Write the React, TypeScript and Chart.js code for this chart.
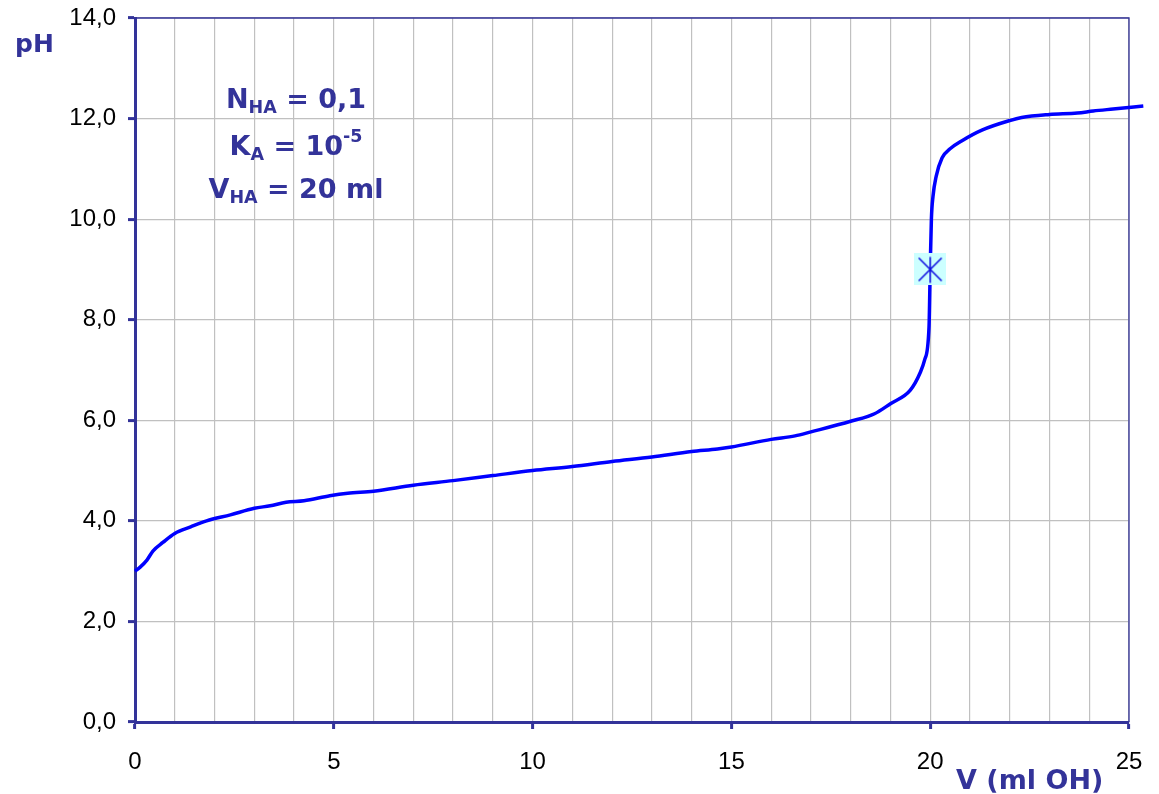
import React, { useEffect, useRef } from 'react';
import { Chart, registerables } from 'chart.js';

Chart.register(...registerables);

// ---- data ----
const VOLUME_ML = [
  0, 0.13, 0.3, 0.45, 0.7, 1.0, 1.4, 1.8, 2.4, 3.0, 3.4, 3.8, 4.25, 4.9, 5.35, 6.0,
  7.0, 8.0, 9.0, 10.0, 11.0, 12.0, 13.0, 14.0, 14.65, 15.0, 16.0, 16.6, 17.0, 18.0,
  18.6, 19.0, 19.5, 19.75, 19.86, 19.97, 20.0, 20.03, 20.07, 20.15, 20.3, 20.5, 20.8,
  21.3, 22.0, 22.3, 23.0, 23.7, 24.1, 24.6, 25.36,
];
const PH_VALUES = [
  3.0, 3.08, 3.22, 3.4, 3.57, 3.75, 3.88, 4.0, 4.12, 4.25, 4.3, 4.37, 4.4, 4.5, 4.55, 4.59,
  4.71, 4.8, 4.9, 5.0, 5.08, 5.18, 5.27, 5.38, 5.43, 5.47, 5.62, 5.69, 5.77, 5.98,
  6.13, 6.33, 6.6, 6.95, 7.2, 7.85, 9.0, 10.0, 10.45, 10.85, 11.22, 11.4, 11.56,
  11.77, 11.96, 12.02, 12.08, 12.11, 12.15, 12.19, 12.25,
];
const EQ_VOLUME = [20];
const EQ_PH = [9];

const X_MIN = 0;
const X_MAX = 25;
const X_GRID_STEP = 1;
const X_LABEL_EVERY = 5;
const Y_MIN = 0;
const Y_MAX = 14;
const Y_STEP = 2;

const Y_TITLE = 'pH';
const X_TITLE = 'V (ml OH)';
type Seg = { t: string; k: 'n' | 'sub' | 'sup' };
const NOTE_LINES: Seg[][] = [
  [{ t: 'N', k: 'n' }, { t: 'HA', k: 'sub' }, { t: ' = 0,1', k: 'n' }],
  [{ t: 'K', k: 'n' }, { t: 'A', k: 'sub' }, { t: ' = 10', k: 'n' }, { t: '-5', k: 'sup' }],
  [{ t: 'V', k: 'n' }, { t: 'HA', k: 'sub' }, { t: ' = 20 ml', k: 'n' }],
];

// ---- styles ----
const NAVY = '#333399';
const GRID = '#C0C0C0';
const CURVE = '#0000FF';
const BOLD_FAMILY = '"DejaVu Sans", Verdana, sans-serif';
const TICK_FAMILY = '"Liberation Sans", Arial, sans-serif';

function makeMarker(): HTMLCanvasElement {
  const c = document.createElement('canvas');
  c.width = 32;
  c.height = 32;
  const g = c.getContext('2d')!;
  g.fillStyle = '#CCFFFF';
  g.fillRect(0, 0, 32, 32);
  g.strokeStyle = '#1010E0';
  g.lineWidth = 1.6;
  g.beginPath();
  g.moveTo(4.5, 4.5);
  g.lineTo(27.5, 27.5);
  g.moveTo(27.5, 4.5);
  g.lineTo(4.5, 27.5);
  g.moveTo(16, 3.5);
  g.lineTo(16, 29.5);
  g.stroke();
  return c;
}

const framePlugin = {
  id: 'frame',
  beforeDatasetsDraw(chart: any) {
    const { ctx, chartArea: a } = chart;
    ctx.save();
    ctx.strokeStyle = NAVY;
    ctx.lineWidth = 1.3;
    ctx.beginPath();
    ctx.moveTo(a.left, a.top);
    ctx.lineTo(a.right, a.top);
    ctx.lineTo(a.right, a.bottom);
    ctx.stroke();
    ctx.restore();
  },
};

const textPlugin = {
  id: 'texts',
  afterDraw(chart: any) {
    const { ctx } = chart;
    ctx.save();
    ctx.fillStyle = NAVY;
    ctx.textBaseline = 'alphabetic';
    ctx.textAlign = 'left';
    // axis titles
    ctx.font = `bold 25px ${BOLD_FAMILY}`;
    ctx.fillText(Y_TITLE, 15, 52);
    ctx.font = `bold 27px ${BOLD_FAMILY}`;
    ctx.fillText(X_TITLE, 956, 789);
    // notes
    const fontFor = (k: string) =>
      k === 'n' ? `bold 27px ${BOLD_FAMILY}` : `bold 17.5px ${BOLD_FAMILY}`;
    const shift = (k: string) => (k === 'sub' ? 4.5 : k === 'sup' ? -13.5 : 0);
    const baselines = [108, 155, 198];
    const cx = 296;
    NOTE_LINES.forEach((line, i) => {
      let w = 0;
      line.forEach((s) => {
        ctx.font = fontFor(s.k);
        w += ctx.measureText(s.t).width;
      });
      let x = cx - w / 2;
      line.forEach((s) => {
        ctx.font = fontFor(s.k);
        ctx.fillText(s.t, x, baselines[i] + shift(s.k));
        x += ctx.measureText(s.t).width;
      });
    });
    ctx.restore();
  },
};

const zeroPad = (s: any) => {
  s.paddingTop = 0;
  s.paddingBottom = 0;
  s.paddingLeft = 0;
  s.paddingRight = 0;
};

export default function App() {
  const ref = useRef<HTMLCanvasElement>(null);

  useEffect(() => {
    document.body.style.margin = '0';
    const canvas = ref.current!;
    const curve = VOLUME_ML.map((v, i) => ({ x: v, y: PH_VALUES[i] }));
    const eq = EQ_VOLUME.map((v, i) => ({ x: v, y: EQ_PH[i] }));
    const chart = new Chart(canvas, {
      type: 'line',
      data: {
        datasets: [
          {
            data: eq,
            showLine: false,
            pointStyle: makeMarker() as any,
            pointRadius: 16,
            order: 0,
          },
          {
            data: curve,
            borderColor: CURVE,
            borderWidth: 3.5,
            pointRadius: 0,
            cubicInterpolationMode: 'monotone',
            clip: false as any,
            order: 1,
          },
        ],
      },
      options: {
        responsive: false,
        animation: false,
        events: [],
        layout: { autoPadding: false, padding: { top: 18, right: 30, left: 0, bottom: 0 } },
        plugins: { legend: { display: false }, tooltip: { enabled: false } },
        scales: {
          x: {
            type: 'linear',
            min: X_MIN,
            max: X_MAX,
            afterFit: (s: any) => {
              s.height = 72;
              zeroPad(s);
            },
            ticks: {
              stepSize: X_GRID_STEP,
              autoSkip: false,
              maxRotation: 0,
              padding: 19,
              color: '#000',
              font: { family: TICK_FAMILY, size: 24 },
              callback: (v: any) => (Number(v) % X_LABEL_EVERY === 0 ? String(v) : ''),
            },
            grid: {
              color: GRID,
              lineWidth: 1.2,
              tickLength: 7,
              tickColor: (c: any) =>
                c.tick && c.tick.value % X_LABEL_EVERY === 0 ? NAVY : 'rgba(0,0,0,0)',
              tickWidth: 3,
            },
            border: { color: NAVY, width: 3 },
          },
          y: {
            type: 'linear',
            min: Y_MIN,
            max: Y_MAX,
            afterFit: (s: any) => {
              s.width = 135;
              zeroPad(s);
            },
            ticks: {
              stepSize: Y_STEP,
              padding: 12,
              color: '#000',
              font: { family: TICK_FAMILY, size: 24 },
              callback: (v: any) => Number(v).toFixed(1).replace('.', ','),
            },
            grid: {
              color: GRID,
              lineWidth: 1.2,
              tickLength: 7,
              tickColor: NAVY,
              tickWidth: 3,
            },
            border: { color: NAVY, width: 3 },
          },
        },
      },
      plugins: [framePlugin, textPlugin],
    });
    return () => chart.destroy();
  }, []);

  return (
    <div style={{ width: 1159, height: 794 }}>
      <canvas ref={ref} width={1159} height={794} style={{ display: 'block' }} />
    </div>
  );
}
